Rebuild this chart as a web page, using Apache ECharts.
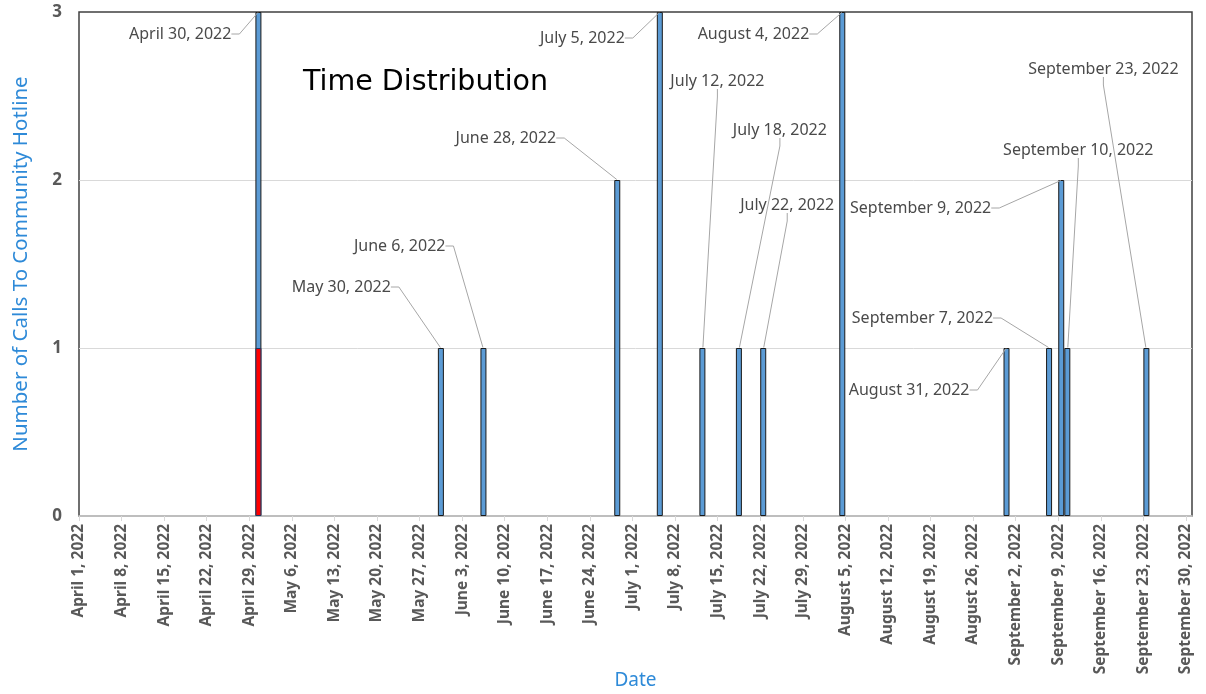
<!DOCTYPE html>
<html><head><meta charset="utf-8">
<script src="https://cdn.jsdelivr.net/npm/echarts@6/dist/echarts.min.js"></script>
<style>html,body{margin:0;padding:0;background:#fff}#c{width:1206px;height:694px}</style>
</head><body><div id="c"></div>
<script>
// ---- data ----
const callDates = ['April 30, 2022','May 30, 2022','June 6, 2022','June 28, 2022','July 5, 2022','July 12, 2022','July 18, 2022','July 22, 2022','August 4, 2022','August 31, 2022','September 7, 2022','September 9, 2022','September 10, 2022','September 23, 2022'];
const calls = [3,1,1,2,3,1,1,1,3,1,1,2,1,1];
const highlightDates = ['April 30, 2022'];
const highlightCalls = [1];
const tickLabels = ['April 1, 2022','April 8, 2022','April 15, 2022','April 22, 2022','April 29, 2022','May 6, 2022','May 13, 2022','May 20, 2022','May 27, 2022','June 3, 2022','June 10, 2022','June 17, 2022','June 24, 2022','July 1, 2022','July 8, 2022','July 15, 2022','July 22, 2022','July 29, 2022','August 5, 2022','August 12, 2022','August 19, 2022','August 26, 2022','September 2, 2022','September 9, 2022','September 16, 2022','September 23, 2022','September 30, 2022'];
const axisRange = ['April 1, 2022','October 1, 2022'];
const yTicks = [0,1,2,3];

// ---- label placement (offset from bar top centre) ----
const labelOffsets = [[-23,22,'right'],[-46,-61,'right'],[-34,-102,'right'],[-57,-42,'right'],[-31,26,'right'],[15,-267,'center'],[41,-218,'center'],[24,-143,'center'],[-29,22,'right'],[-33,42,'right'],[-52,-30,'right'],[-66,28,'right'],[11,-198,'center'],[-43,-279,'center']];

const MONTHS = ['January','February','March','April','May','June','July','August','September','October','November','December'];
function toUTC(s){ const m = s.match(/^(\w+) (\d+), (\d+)$/); return Date.UTC(+m[3], MONTHS.indexOf(m[1]), +m[2]); }
const origin = toUTC(axisRange[0]);
function dayIdx(s){ return Math.round((toUTC(s) - origin) / 864e5); }
const tickVals = tickLabels.map(dayIdx);
const labelByVal = {}; tickVals.forEach((v,i)=>labelByVal[v]=tickLabels[i]);

const chart = echarts.init(document.getElementById('c'), null, {renderer:'canvas'});
const FONT = 'Noto Sans';
chart.setOption({
  animation:false,
  title:{text:'Time Distribution', left:298, top:63, textStyle:{fontFamily:'DejaVu Sans', fontSize:28.5, fontWeight:'normal', color:'#000'}},
  grid:{left:79, right:14, top:12, bottom:178, outerBoundsMode:'none', containLabel:false, show:true, borderColor:'#404040', borderWidth:1.5, backgroundColor:'transparent'},
  xAxis:{
    type:'value', min:dayIdx(axisRange[0]), max:dayIdx(axisRange[1]),
    name:'Date', nameLocation:'middle', nameGap:155, nameMoveOverlap:false,
    nameTextStyle:{color:'#2e8ad8', fontSize:19, fontFamily:FONT, verticalAlign:'top'},
    axisLine:{show:true, onZero:false, lineStyle:{color:'#d9d9d9', width:1.5}},
    axisTick:{show:true, customValues:tickVals, length:5, lineStyle:{color:'#d9d9d9'}},
    axisLabel:{customValues:tickVals, rotate:90, margin:8, color:'#595959', fontSize:15.5, fontWeight:'bold', fontFamily:FONT,
      formatter:v=>labelByVal[v]||''},
    splitLine:{show:false}
  },
  yAxis:{
    type:'value', min:yTicks[0], max:yTicks[yTicks.length-1], interval:1,
    name:'Number of Calls To Community Hotline', nameLocation:'middle', nameGap:47, nameRotate:90, nameMoveOverlap:false,
    nameTextStyle:{color:'#2e8ad8', fontSize:20.5, fontFamily:FONT},
    axisLine:{show:false}, axisTick:{show:false},
    axisLabel:{color:'#595959', fontSize:17, fontWeight:'bold', fontFamily:FONT, margin:17},
    splitLine:{show:true, showMinLine:false, showMaxLine:false, lineStyle:{color:'#d9d9d9', width:1}}
  },
  series:[
    {
      type:'bar', name:'Calls', barWidth:6, barGap:'-100%', z:2,
      data: callDates.map((d,i)=>[dayIdx(d)+0.5, calls[i]]),
      itemStyle:{color:'#5b9bd5', borderColor:'#1a1a1a', borderWidth:1}
    },
    {
      type:'bar', name:'Highlight', barWidth:6, barGap:'-100%', z:3,
      data: highlightDates.map((d,i)=>[dayIdx(d)+0.5, highlightCalls[i]]),
      itemStyle:{color:'#ff0000', borderColor:'#1f3864', borderWidth:1}
    },
    {
      type:'scatter', name:'Labels', symbol:'rect', symbolSize:1, silent:true,
      data: callDates.map((d,i)=>[dayIdx(d)+0.5, calls[i]]),
      itemStyle:{color:'rgba(0,0,0,0)'},
      label:{show:true, position:'top', fontFamily:FONT, fontSize:16, color:'#4a4a4a', opacity:1, padding:[0,4],
        formatter:p=>callDates[p.dataIndex]},
      labelLayout:function(p){
        const o = labelOffsets[p.dataIndex];
        return {x:p.rect.x + p.rect.width/2 + o[0], y:p.rect.y + p.rect.height/2 + o[1], align:o[2], verticalAlign:'middle'};
      },
      labelLine:{show:true, length2:8, lineStyle:{color:'#a6a6a6', width:1, opacity:1}}
    }
  ]
});
</script>
</body></html>
